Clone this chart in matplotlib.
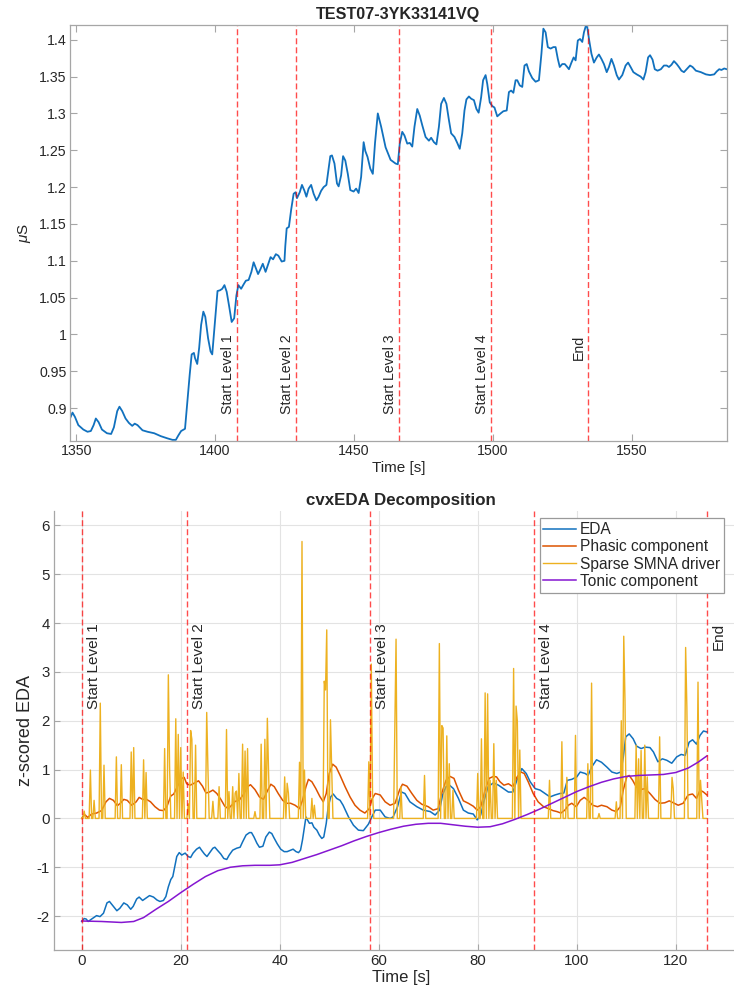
import numpy as np
import matplotlib
matplotlib.use("Agg")
import matplotlib.pyplot as plt

plt.rcParams['font.family'] = ['Liberation Sans', 'DejaVu Sans']
plt.rcParams['mathtext.fontset'] = 'custom'
plt.rcParams['mathtext.it'] = 'Liberation Sans:italic'
plt.rcParams['mathtext.rm'] = 'Liberation Sans'
plt.rcParams['axes.unicode_minus'] = False

# ---- raw EDA recording (microsiemens) ----
eda_time = [1347.8, 1348.7, 1349.6, 1350.8, 1352.6, 1354.1, 1355.3, 1356.3, 1357.1, 1358.1,
            1359.3, 1361.1, 1362.6, 1363.6, 1364.8, 1365.6, 1366.6, 1367.8, 1369.0, 1370.2,
            1371.1, 1372.1, 1373.9, 1375.7, 1378.1, 1380.5, 1382.9, 1384.7, 1385.9, 1386.8,
            1387.8, 1389.2, 1390.2, 1390.9, 1391.6, 1392.4, 1392.8, 1393.6, 1394.3, 1395.0,
            1395.8, 1396.5, 1397.5, 1398.4, 1399.0, 1399.9, 1400.9, 1401.8, 1402.6, 1403.4,
            1404.2, 1405.1, 1406.0, 1406.9, 1407.7, 1408.4, 1409.4, 1410.3, 1411.1, 1412.1,
            1413.1, 1413.9, 1414.8, 1415.5, 1416.4, 1417.2, 1418.2, 1419.2, 1420.0, 1420.9,
            1421.9, 1422.8, 1424.0, 1425.0, 1425.3, 1425.8, 1426.6, 1427.4, 1428.3, 1429.0,
            1429.5, 1430.5, 1431.3, 1432.2, 1432.9, 1433.7, 1434.6, 1435.5, 1436.5, 1437.3,
            1438.2, 1439.1, 1440.1, 1440.9, 1441.5, 1442.1, 1443.0, 1443.9, 1444.5, 1445.4,
            1446.1, 1446.9, 1447.8, 1448.7, 1449.9, 1450.8, 1451.7, 1452.6, 1453.5, 1454.1,
            1454.9, 1455.9, 1456.8, 1457.6, 1458.6, 1459.8, 1461.4, 1463.2, 1465.0, 1465.8,
            1466.5, 1467.4, 1468.2, 1469.2, 1470.1, 1471.0, 1471.8, 1472.8, 1473.7, 1474.6,
            1475.8, 1477.0, 1477.8, 1478.8, 1479.7, 1480.6, 1481.4, 1482.4, 1483.3, 1484.2,
            1485.0, 1486.2, 1487.2, 1488.1, 1489.0, 1489.8, 1490.5, 1491.4, 1492.2, 1493.2,
            1494.1, 1494.9, 1495.8, 1496.5, 1497.4, 1498.0, 1498.9, 1499.8, 1500.6, 1501.6,
            1502.8, 1503.8, 1505.0, 1505.8, 1506.6, 1507.4, 1508.2, 1508.8, 1509.7, 1510.6,
            1511.4, 1512.2, 1513.0, 1514.2, 1515.4, 1516.6, 1517.5, 1518.2, 1519.0, 1519.8,
            1520.8, 1521.8, 1522.6, 1523.4, 1524.1, 1525.0, 1525.9, 1526.8, 1527.4, 1528.3,
            1529.1, 1529.8, 1530.6, 1531.4, 1532.2, 1532.8, 1533.5, 1534.0, 1534.7, 1535.5,
            1536.4, 1537.4, 1538.2, 1539.1, 1540.0, 1541.0, 1541.8, 1542.7, 1543.6, 1544.6,
            1545.4, 1546.6, 1547.8, 1548.7, 1549.6, 1550.6, 1551.8, 1553.2, 1554.2, 1555.0,
            1555.9, 1556.6, 1557.5, 1558.3, 1559.3, 1560.5, 1561.6, 1562.6, 1563.4, 1564.3,
            1565.2, 1566.2, 1567.0, 1567.9, 1568.8, 1569.8, 1571.0, 1571.9, 1573.1, 1574.9,
            1576.7, 1578.2, 1579.7, 1580.6, 1581.5, 1582.3, 1583.3, 1584.2]
eda_us = [0.886, 0.894, 0.888, 0.877, 0.871, 0.868, 0.869, 0.877, 0.886, 0.881,
          0.871, 0.866, 0.865, 0.874, 0.896, 0.902, 0.896, 0.886, 0.880, 0.876,
          0.879, 0.877, 0.870, 0.868, 0.866, 0.862, 0.859, 0.857, 0.857, 0.863,
          0.869, 0.872, 0.915, 0.946, 0.973, 0.975, 0.968, 0.960, 0.982, 1.013,
          1.031, 1.024, 0.995, 0.977, 0.973, 1.013, 1.059, 1.060, 1.062, 1.067,
          1.058, 1.038, 1.017, 1.022, 1.053, 1.067, 1.062, 1.068, 1.073, 1.074,
          1.085, 1.098, 1.089, 1.082, 1.089, 1.096, 1.085, 1.096, 1.105, 1.102,
          1.109, 1.107, 1.099, 1.100, 1.120, 1.144, 1.146, 1.169, 1.191, 1.193,
          1.185, 1.193, 1.203, 1.195, 1.187, 1.198, 1.203, 1.191, 1.182, 1.187,
          1.195, 1.200, 1.203, 1.225, 1.242, 1.243, 1.232, 1.205, 1.201, 1.216,
          1.242, 1.236, 1.218, 1.196, 1.194, 1.198, 1.192, 1.214, 1.261, 1.249,
          1.241, 1.225, 1.218, 1.260, 1.300, 1.282, 1.254, 1.237, 1.232, 1.231,
          1.259, 1.275, 1.270, 1.259, 1.260, 1.255, 1.282, 1.306, 1.297, 1.284,
          1.268, 1.263, 1.267, 1.261, 1.258, 1.282, 1.313, 1.321, 1.313, 1.291,
          1.273, 1.268, 1.260, 1.252, 1.273, 1.304, 1.319, 1.323, 1.320, 1.318,
          1.306, 1.301, 1.322, 1.345, 1.352, 1.340, 1.315, 1.310, 1.308, 1.296,
          1.300, 1.303, 1.304, 1.329, 1.331, 1.328, 1.345, 1.345, 1.338, 1.336,
          1.365, 1.367, 1.357, 1.348, 1.343, 1.345, 1.381, 1.415, 1.410, 1.390,
          1.388, 1.390, 1.390, 1.374, 1.363, 1.367, 1.367, 1.363, 1.360, 1.369,
          1.376, 1.372, 1.399, 1.401, 1.397, 1.410, 1.419, 1.417, 1.399, 1.381,
          1.369, 1.376, 1.380, 1.374, 1.367, 1.356, 1.363, 1.374, 1.365, 1.352,
          1.346, 1.352, 1.365, 1.369, 1.363, 1.356, 1.353, 1.350, 1.346, 1.356,
          1.376, 1.379, 1.373, 1.360, 1.358, 1.360, 1.365, 1.365, 1.363, 1.366,
          1.371, 1.367, 1.363, 1.358, 1.356, 1.360, 1.365, 1.363, 1.358, 1.356,
          1.353, 1.352, 1.353, 1.357, 1.360, 1.359, 1.361, 1.360]

# ---- markers of the game levels ----
start_time = 1408.0
event_offsets = [0.0, 21.2, 58.2, 91.3, 126.3]
event_labels = ['Start Level 1', 'Start Level 2', 'Start Level 3', 'Start Level 4', 'End']

# ---- cvxEDA output, z-scored, time relative to level 1 ----
z_time = [0.0, 0.5, 0.9, 1.3, 2.0, 3.0, 3.7, 4.4, 5.1, 5.6, 6.4, 7.1, 7.7, 8.5, 9.2, 9.9, 10.4,
          11.1, 11.6, 12.3, 13.0, 13.7, 14.5, 15.2, 15.8, 16.5, 17.0, 17.5, 18.0, 18.4, 18.8,
          19.2, 19.7, 20.2, 20.9, 21.5, 22.0, 22.5, 23.2, 23.8, 24.2, 24.8, 25.3, 25.8, 26.5,
          26.9, 27.4, 28.1, 28.7, 29.3, 29.8, 30.5, 31.3, 32.0, 32.5, 33.2, 33.9, 34.3, 34.8,
          35.4, 35.9, 36.6, 37.2, 37.9, 38.4, 38.8, 39.5, 40.2, 40.9, 41.5, 42.2, 42.7, 43.3,
          43.8, 44.2, 44.6, 45.0, 45.3, 45.6, 46.0, 46.5, 46.9, 47.5, 48.0, 48.5, 48.9, 49.4,
          49.8, 50.3, 50.8, 51.5, 52.2, 52.8, 53.9, 54.9, 55.9, 56.9, 57.9, 58.6, 59.3, 60.3,
          61.3, 62.3, 62.9, 63.8, 64.6, 65.3, 66.3, 67.7, 69.0, 70.4, 71.4, 72.3, 72.9, 73.6,
          74.3, 75.1, 76.1, 77.1, 78.1, 79.1, 79.9, 80.6, 81.3, 82.1, 83.2, 84.2, 85.2, 86.2,
          87.1, 87.9, 88.9, 89.8, 90.6, 91.6, 92.6, 93.6, 94.6, 95.6, 96.6, 97.4, 98.1, 99.0,
          100.0, 100.7, 101.7, 102.3, 103.0, 104.0, 105.0, 106.1, 107.1, 108.1, 108.9, 109.4,
          109.9, 110.6, 111.4, 112.1, 113.0, 113.8, 114.8, 115.5, 116.4, 117.3, 118.2, 119.2,
          120.2, 121.1, 121.9, 122.7, 123.4, 124.2, 124.9, 125.6, 126.3]
z_eda = [-2.11, -2.05, -2.06, -2.11, -2.06, -1.99, -2.01, -1.94, -1.73, -1.70, -1.80, -1.89,
         -1.84, -1.73, -1.77, -1.86, -1.80, -1.65, -1.61, -1.68, -1.63, -1.58, -1.61, -1.67,
         -1.70, -1.68, -1.60, -1.40, -1.25, -1.19, -0.99, -0.78, -0.70, -0.75, -0.71, -0.78,
         -0.80, -0.71, -0.63, -0.59, -0.65, -0.73, -0.78, -0.71, -0.61, -0.59, -0.65, -0.73,
         -0.82, -0.84, -0.75, -0.65, -0.61, -0.59, -0.48, -0.34, -0.29, -0.29, -0.38, -0.51,
         -0.59, -0.57, -0.38, -0.28, -0.31, -0.39, -0.52, -0.63, -0.68, -0.68, -0.65, -0.63,
         -0.68, -0.70, -0.65, -0.44, -0.17, 0.03, -0.03, -0.10, -0.09, -0.18, -0.24, -0.34,
         -0.41, -0.38, -0.10, 0.24, 0.44, 0.50, 0.41, 0.37, 0.27, 0.03, -0.14, -0.24, -0.25,
         -0.12, 0.03, 0.17, 0.17, 0.03, 0.00, 0.03, 0.24, 0.54, 0.51, 0.34, 0.24, 0.17, 0.14,
         0.07, 0.17, 0.48, 0.65, 0.68, 0.61, 0.41, 0.17, 0.11, 0.09, -0.03, 0.07, 0.37, 0.65,
         0.73, 0.68, 0.61, 0.54, 0.54, 0.78, 1.02, 0.92, 0.75, 0.61, 0.58, 0.51, 0.44, 0.48,
         0.51, 0.52, 0.78, 0.80, 0.85, 0.95, 0.92, 0.88, 1.05, 1.20, 1.15, 1.05, 0.95, 0.92,
         0.95, 1.25, 1.67, 1.73, 1.63, 1.48, 1.43, 1.46, 1.45, 1.36, 1.16, 1.22, 1.19, 1.13,
         1.26, 1.31, 1.29, 1.56, 1.61, 1.52, 1.70, 1.79, 1.77]

phasic_time = [0.0, 0.3, 0.7, 1.2, 2.0, 3.0, 4.0, 4.9, 5.6, 6.4, 7.2, 7.9, 8.5, 9.2, 10.1, 11.0,
               11.6, 12.3, 13.1, 13.9, 14.8, 15.7, 16.5, 17.2, 18.0, 18.6, 19.3, 20.2, 20.7,
               21.2, 21.9, 22.5, 23.6, 24.4, 25.1, 25.8, 26.5, 27.3, 28.1, 28.9, 29.6, 30.3,
               31.0, 31.8, 32.6, 33.5, 34.1, 35.0, 35.9, 36.7, 37.4, 38.2, 38.9, 39.7, 40.6,
               41.4, 42.2, 43.1, 44.0, 44.6, 45.3, 45.8, 46.5, 47.3, 48.1, 48.8, 49.4, 50.0,
               50.7, 51.4, 52.2, 53.2, 54.2, 55.2, 56.2, 57.2, 58.1, 58.7, 59.3, 60.3, 61.3,
               62.3, 63.3, 64.2, 64.8, 65.7, 66.7, 67.7, 68.7, 70.0, 71.0, 72.0, 72.7, 73.6,
               74.4, 75.2, 76.1, 77.1, 78.1, 79.1, 79.9, 80.6, 81.5, 82.3, 83.2, 83.8, 84.5,
               85.3, 86.2, 87.1, 87.9, 88.7, 89.4, 90.2, 91.2, 92.2, 93.3, 94.3, 95.2, 96.0,
               96.8, 97.6, 98.3, 99.0, 99.9, 100.7, 101.5, 102.3, 103.2, 104.2, 105.0, 106.1,
               107.1, 108.0, 108.8, 109.4, 110.1, 110.6, 111.3, 112.0, 112.8, 113.8, 114.8,
               115.8, 116.8, 117.8, 118.7, 119.5, 120.5, 121.5, 122.5, 123.4, 124.2, 124.9,
               125.6, 126.3]
phasic = [0.00, 0.05, 0.07, 0.02, 0.09, 0.11, 0.16, 0.34, 0.41, 0.37, 0.26, 0.32, 0.39, 0.37,
          0.27, 0.34, 0.43, 0.39, 0.39, 0.34, 0.24, 0.17, 0.16, 0.24, 0.46, 0.50, 0.65, 0.82,
          0.84, 0.71, 0.68, 0.71, 0.77, 0.66, 0.52, 0.54, 0.58, 0.51, 0.39, 0.25, 0.20, 0.27,
          0.35, 0.37, 0.48, 0.65, 0.69, 0.59, 0.44, 0.39, 0.54, 0.70, 0.65, 0.51, 0.37, 0.31,
          0.31, 0.27, 0.20, 0.37, 0.65, 0.80, 0.75, 0.61, 0.45, 0.34, 0.51, 0.92, 1.11, 1.05,
          0.88, 0.65, 0.44, 0.27, 0.17, 0.11, 0.20, 0.41, 0.51, 0.48, 0.34, 0.27, 0.31, 0.58,
          0.70, 0.66, 0.51, 0.37, 0.29, 0.24, 0.17, 0.20, 0.51, 0.78, 0.86, 0.82, 0.58, 0.36,
          0.31, 0.25, 0.17, 0.24, 0.58, 0.82, 0.86, 0.85, 0.75, 0.68, 0.71, 0.65, 0.84, 0.95,
          0.92, 0.75, 0.51, 0.34, 0.24, 0.20, 0.16, 0.14, 0.11, 0.17, 0.27, 0.31, 0.24, 0.37,
          0.43, 0.37, 0.27, 0.24, 0.27, 0.24, 0.17, 0.14, 0.24, 0.58, 0.85, 0.88, 0.78, 0.65,
          0.59, 0.61, 0.51, 0.39, 0.31, 0.32, 0.36, 0.32, 0.27, 0.31, 0.48, 0.50, 0.41, 0.58,
          0.54, 0.48]

# sparse SMNA driver: nonzero samples (4 Hz grid), zero elsewhere
driver_dt = 0.25
driver_end = 126.25
spike_time = [0.5, 1.75, 2.5, 3.75, 4.5, 7.0, 8.0, 10.0, 10.5, 12.5, 13.0, 16.75, 17.5, 17.75,
              19.0, 19.5, 20.0, 20.5, 21.5, 22.0, 22.25, 23.0, 25.25, 25.5, 26.5, 27.75, 29.25,
              29.75, 30.5, 31.0, 31.25, 31.75, 32.5, 33.0, 33.5, 35.0, 36.25, 37.0, 37.5, 37.75,
              41.0, 41.5, 41.75, 44.0, 44.5, 45.0, 46.5, 47.0, 49.0, 49.25, 49.5, 50.25, 50.5,
              58.0, 58.5, 58.75, 63.25, 63.5, 64.5, 69.25, 72.25, 72.75, 73.0, 73.75, 74.25,
              75.0, 80.0, 80.75, 81.5, 82.0, 82.5, 83.25, 83.75, 87.25, 87.75, 88.0, 88.5, 94.5,
              97.0, 98.0, 99.75, 102.25, 103.0, 104.5, 108.0, 109.0, 109.5, 109.75, 112.0,
              112.5, 113.0, 113.75, 114.25, 116.75, 119.25, 119.5, 122.0, 122.25, 124.5, 125.0,
              125.25]
spike_height = [0.15, 0.99, 0.37, 2.36, 1.09, 1.26, 1.10, 1.36, 1.45, 1.20, 0.94, 1.43, 2.94,
                1.05, 2.04, 1.72, 1.45, 0.95, 0.30, 1.80, 1.62, 1.50, 2.17, 1.00, 0.35, 0.65,
                1.82, 0.55, 0.65, 0.52, 0.56, 0.92, 1.52, 1.38, 1.43, 0.14, 1.52, 1.62, 2.05,
                0.93, 0.85, 0.72, 0.52, 1.15, 5.67, 0.99, 0.41, 0.27, 2.81, 2.63, 3.86, 2.02,
                1.02, 1.16, 3.16, 0.50, 1.80, 3.67, 0.65, 0.88, 3.58, 1.90, 1.85, 1.69, 1.12,
                0.58, 0.92, 1.63, 2.57, 2.55, 0.78, 1.53, 0.78, 3.07, 2.30, 2.00, 1.40, 0.78,
                1.57, 0.84, 1.70, 1.12, 2.77, 0.10, 0.34, 2.00, 3.73, 2.41, 1.50, 1.22, 1.39,
                1.50, 0.85, 1.67, 0.84, 0.61, 3.50, 2.28, 2.79, 0.78, 0.40]

tonic_time = [0.0, 4.0, 8.0, 10.5, 12.5, 15.0, 17.5, 20.0, 22.5, 25.0, 27.5, 30.0, 32.5, 35.0,
              38.0, 40.0, 42.5, 45.0, 47.5, 50.0, 52.5, 55.0, 57.5, 60.0, 62.5, 65.0, 67.5,
              70.0, 72.5, 75.0, 77.5, 80.0, 82.5, 85.0, 87.5, 90.0, 92.5, 95.0, 97.5, 100.0,
              102.5, 105.0, 107.5, 110.0, 112.5, 115.0, 117.5, 120.0, 122.5, 124.5, 126.3]
tonic = [-2.10, -2.11, -2.13, -2.11, -2.03, -1.86, -1.70, -1.52, -1.35, -1.19, -1.07, -1.00,
         -0.97, -0.96, -0.96, -0.95, -0.90, -0.82, -0.74, -0.65, -0.56, -0.46, -0.37, -0.29,
         -0.22, -0.16, -0.12, -0.10, -0.10, -0.13, -0.16, -0.18, -0.17, -0.11, -0.02, 0.08,
         0.19, 0.31, 0.43, 0.55, 0.65, 0.74, 0.81, 0.86, 0.88, 0.89, 0.90, 0.94, 1.03, 1.15,
         1.28]

driver_time = np.arange(0, driver_end + driver_dt / 2, driver_dt)
driver = np.zeros_like(driver_time)
driver[np.round(np.array(spike_time) / driver_dt).astype(int)] = spike_height

c_blue = '#1171BE'
c_orange = '#DD5400'
c_yellow = '#EDB120'
c_purple = '#8516D1'
c_axis = '#a6a6a6'
c_text = '#262626'
dash = (4.3, 2.2)

fig = plt.figure(figsize=(7.34, 9.91), dpi=100)

# ---------------- raw signal ----------------
ax1 = fig.add_axes([70 / 734, 1 - 440.6 / 991, 657 / 734, 415.6 / 991])
ax1.plot(eda_time, eda_us, color=c_blue, lw=1.3)
for off, lab in zip(event_offsets, event_labels):
    x = start_time + off
    ax1.axvline(x, color='red', alpha=0.7, lw=1.0, dashes=dash)
    ax1.annotate(lab, xy=(x, 1.0), xytext=(-1.5, 0), textcoords='offset points',
                 rotation=90, ha='right', va='top', fontsize=10.2, color=c_text)
ax1.set_xlim(1347.8, 1584.3)
ax1.set_ylim(0.856, 1.42)
ax1.set_xticks([1350, 1400, 1450, 1500, 1550])
ax1.set_yticks([0.9, 0.95, 1.0, 1.05, 1.1, 1.15, 1.2, 1.25, 1.3, 1.35, 1.4])
ax1.set_yticklabels(['0.9', '0.95', '1', '1.05', '1.1', '1.15', '1.2', '1.25', '1.3',
                     '1.35', '1.4'])
ax1.tick_params(direction='in', top=True, right=True, length=5, width=0.8,
                color=c_axis, labelcolor=c_text, labelsize=10.2, pad=2.5)
for sp in ax1.spines.values():
    sp.set_color(c_axis)
    sp.set_linewidth(0.9)
ax1.set_xlabel('Time [s]', fontsize=11, color=c_text, labelpad=2)
ax1.set_ylabel(r'$\mu$S', fontsize=11, color=c_text, labelpad=4)
ax1.set_title('TEST07-3YK33141VQ', fontsize=11.6, fontweight='bold', color=c_text, pad=4)

# ---------------- decomposition ----------------
ax2 = fig.add_axes([54 / 734, 1 - 950.3 / 991, 694 / 734, 439.6 / 991])
ax2.grid(True, color='#e3e3e3', lw=0.8)
ax2.set_axisbelow(True)
ax2.plot(z_time, z_eda, color=c_blue, lw=1.1, label='EDA')
ax2.plot(phasic_time, phasic, color=c_orange, lw=1.1, label='Phasic component')
ax2.plot(driver_time, driver, color=c_yellow, lw=1.0, label='Sparse SMNA driver')
ax2.plot(tonic_time, tonic, color=c_purple, lw=1.1, label='Tonic component')
for off, lab in zip(event_offsets, event_labels):
    ax2.axvline(off, color='red', alpha=0.7, lw=1.0, dashes=dash)
    ax2.annotate(lab, xy=(off, 4.0), xytext=(3.5, 0), textcoords='offset points',
                 rotation=90, ha='left', va='top', fontsize=11, color=c_text)
ax2.set_xlim(-5.6, 134.6)
ax2.set_ylim(-2.7, 6.3)
ax2.set_xticks([0, 20, 40, 60, 80, 100, 120])
ax2.set_yticks([-2, -1, 0, 1, 2, 3, 4, 5, 6])
ax2.tick_params(direction='in', length=4, width=0.8, color=c_axis, labelcolor=c_text,
                labelsize=10.8, pad=3)
ax2.spines['top'].set_visible(False)
ax2.spines['right'].set_visible(False)
for sp in ('left', 'bottom'):
    ax2.spines[sp].set_color(c_axis)
    ax2.spines[sp].set_linewidth(0.9)
ax2.set_xlabel('Time [s]', fontsize=12, color=c_text, labelpad=1)
ax2.set_ylabel('z-scored EDA', fontsize=13, color=c_text, labelpad=2)
ax2.set_title('cvxEDA Decomposition', fontsize=12.2, fontweight='bold', color=c_text, pad=4)
leg = ax2.legend(loc='upper right', bbox_to_anchor=(724 / 734, 1 - 518.3 / 991),
                 bbox_transform=fig.transFigure, borderaxespad=0, fontsize=11.2,
                 fancybox=False, framealpha=1, edgecolor='#9a9a9a', handlelength=2.1,
                 handletextpad=0.25, labelspacing=0.14, borderpad=0.25)
leg.get_frame().set_linewidth(0.9)
for t in leg.get_texts():
    t.set_color(c_text)

fig.savefig('out.png', dpi=100)
